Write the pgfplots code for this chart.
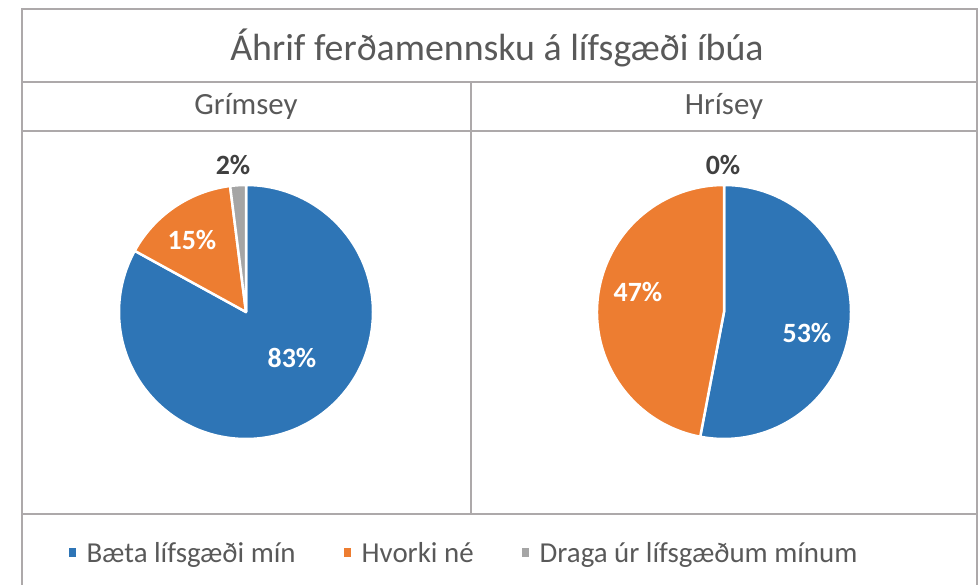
\documentclass[border=0pt]{standalone}
\usepackage{pgfplots}
\pgfplotsset{compat=1.18}
\usepackage{pgfplotstable}
\usepackage{fontspec}
\setmainfont{Carlito}

\definecolor{cblue}{HTML}{2E75B6}
\definecolor{corange}{HTML}{ED7D31}
\definecolor{cgray}{HTML}{A5A5A5}
\definecolor{cline}{HTML}{ADA9AA}
\definecolor{ctext}{HTML}{595959}
\definecolor{clab}{HTML}{404040}

\pgfplotstableread{
cat value color
1 83 cblue
2 15 corange
3 2 cgray
}\grimsey
\pgfplotstableread{
cat value color
1 53 cblue
2 47 corange
3 0 cgray
}\hrisey

\newcommand\drawpie[1]{%
  \xdef\pieang{90}%
  \pgfplotstablegetrowsof{#1}%
  \pgfmathtruncatemacro\pielast{\pgfplotsretval-1}%
  \foreach \i in {0,...,\pielast}{%
    \pgfplotstablegetelem{\i}{value}\of{#1}%
    \pgfmathsetmacro\pieend{\pieang-3.6*\pgfplotsretval}%
    \pgfplotstablegetelem{\i}{color}\of{#1}%
    \edef\piecmd{\noexpand\fill[\pgfplotsretval, draw=white, line width=2.5bp, line join=round] (axis cs:0,0) -- ++(\pieang:127bp) arc[start angle=\pieang, end angle=\pieend, radius=127bp] -- cycle;}%
    \piecmd
    \xdef\pieang{\pieend}%
  }%
}

\begin{document}
\begin{tikzpicture}[x=1bp,y=1bp]
\useasboundingbox (0,0) rectangle (978,585);
% frame
\draw[cline, line width=2bp] (22,-5) -- (22,576) -- (977,576) -- (977,-5);
\draw[cline, line width=2bp] (22,503) -- (977,503);
\draw[cline, line width=2bp] (22,454) -- (977,454);
\draw[cline, line width=2bp] (22,71) -- (977,71);
\draw[cline, line width=2bp] (471,503) -- (471,71);
% titles
\node[ctext, font=\fontsize{38}{45}\selectfont] at (497,537) {Áhrif ferðamennsku á lífsgæði íbúa};
\node[ctext, font=\fontsize{31}{37}\selectfont] at (246,479) {Grímsey};
\node[ctext, font=\fontsize{31}{37}\selectfont] at (724,479) {Hrísey};

\begin{axis}[at={(246,273)}, anchor=center, x=1bp, y=1bp,
  xmin=-150, xmax=150, ymin=-150, ymax=150, hide axis, clip=false,
  legend columns=3,
  legend image code/.code={\fill[#1] (0bp,-4.5bp) rectangle (7bp,4.5bp);},
  legend style={at={(axis cs:218,-241)}, anchor=center, draw=none, fill=none,
    font=\fontsize{29}{35}\selectfont, text=ctext, inner sep=0pt,
    /tikz/every odd column/.append style={column sep=9bp},
    /tikz/every even column/.append style={column sep=46bp}},
  legend cell align=left]
\addlegendimage{fill=cblue, draw=none}
\addlegendentry{Bæta lífsgæði mín}
\addlegendimage{fill=corange, draw=none}
\addlegendentry{Hvorki né}
\addlegendimage{fill=cgray, draw=none}
\addlegendentry{Draga úr lífsgæðum mínum}
\drawpie{\grimsey}
\node[white, font=\bfseries\fontsize{28}{33}\selectfont] at (axis cs:46,-46) {83\%};
\node[white, font=\bfseries\fontsize{28}{33}\selectfont] at (axis cs:-54,72) {15\%};
\node[clab, font=\bfseries\fontsize{28}{33}\selectfont] at (axis cs:-13,147) {2\%};
\end{axis}

\begin{axis}[at={(724,273)}, anchor=center, x=1bp, y=1bp,
  xmin=-150, xmax=150, ymin=-150, ymax=150, hide axis, clip=false]
\drawpie{\hrisey}
\node[white, font=\bfseries\fontsize{28}{33}\selectfont] at (axis cs:83,-21) {53\%};
\node[white, font=\bfseries\fontsize{28}{33}\selectfont] at (axis cs:-86,20) {47\%};
\node[clab, font=\bfseries\fontsize{28}{33}\selectfont] at (axis cs:-1,147) {0\%};
\end{axis}
\end{tikzpicture}
\end{document}
